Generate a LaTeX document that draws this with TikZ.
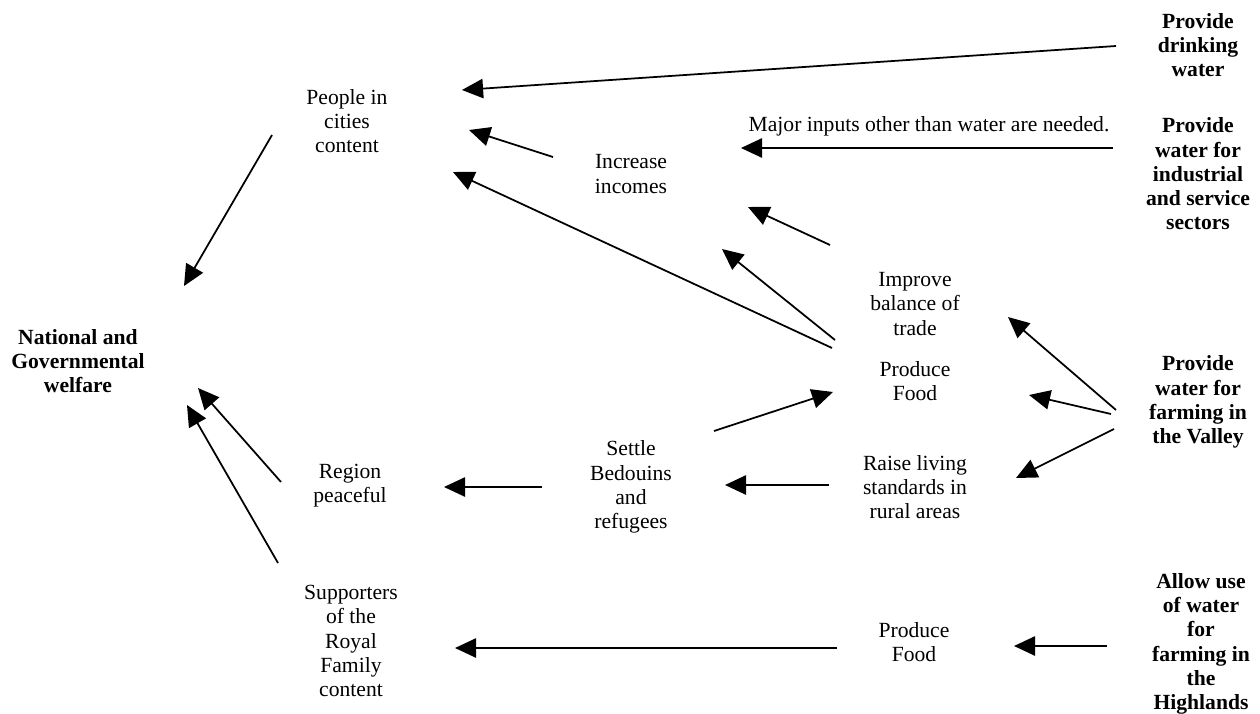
\documentclass[tikz,border=0pt]{standalone}
\usepackage{fontspec}
\setmainfont{Liberation Serif}
\usetikzlibrary{arrows.meta, positioning}
\tikzstyle{effect} = [align=center, inner sep=0pt, font=\fontsize{12.3}{13.8}\selectfont]
\tikzstyle{source} = [align=center, inner sep=0pt, font=\fontsize{12.3}{13.8}\selectfont\bfseries]
\tikzstyle{arrow} = [line width=1pt, -{Triangle[length=12pt, width=11pt]}]

\begin{document}
\begin{tikzpicture}[x=0.2mm, y=-0.2mm]
    \useasboundingbox (0,0) rectangle (1260,714);

    % Water uses
    \node (drinking) [source] at (1198,45) {Provide\\drinking\\water};
    \node (industry) [source] at (1198,174) {Provide\\water for\\industrial\\and service\\sectors};
    \node (valley) [source] at (1198,402) {Provide\\water for\\farming in\\the Valley};
    \node (highlands) [source] at (1201,644) {Allow use\\of water\\for\\farming in\\the\\Highlands};

    % Goal
    \node (welfare) [source] at (78,361) {National and\\Governmental\\welfare};

    % Effects
    \node (people) [effect] at (347,121) {People in\\cities\\content};
    \node (incomes) [effect] at (631,174) {Increase\\incomes};
    \node (inputs) [effect] at (929,126) {Major inputs other than water are needed.};
    \node (trade) [effect] at (915,304) {Improve\\balance of\\trade};
    \node (food) [effect] at (915,381) {Produce\\Food};
    \node (rural) [effect] at (915,487) {Raise living\\standards in\\rural areas};
    \node (settle) [effect] at (631,487) {Settle\\Bedouins\\and\\refugees};
    \node (peace) [effect] at (350,486) {Region\\peaceful};
    \node (royal) [effect] at (351,641) {Supporters\\of the\\Royal\\Family\\content};
    \node (food_high) [effect] at (914,642) {Produce\\Food};

    % Arrow ends
    \coordinate (drinking_out) at (1116,46);
    \coordinate (people_in1) at (462,90);
    \coordinate (industry_out) at (1113,148);
    \coordinate (inputs_in) at (741,148);
    \coordinate (people_out) at (272,135);
    \coordinate (welfare_in1) at (184,286);
    \coordinate (incomes_out) at (553,157);
    \coordinate (people_in2) at (469,130);
    \coordinate (food_out1) at (832,348);
    \coordinate (people_in3) at (453,172);
    \coordinate (food_out2) at (835,340);
    \coordinate (incomes_in1) at (722,249);
    \coordinate (trade_out) at (830,245);
    \coordinate (incomes_in2) at (748,207);
    \coordinate (settle_out1) at (714,431);
    \coordinate (food_in) at (833,392);
    \coordinate (valley_out1) at (1116,410);
    \coordinate (trade_in) at (1008,317);
    \coordinate (valley_out2) at (1111,414);
    \coordinate (food_in2) at (1029,395);
    \coordinate (valley_out3) at (1114,429);
    \coordinate (rural_in) at (1016,478);
    \coordinate (rural_out) at (829,485);
    \coordinate (settle_in) at (725,485);
    \coordinate (settle_out2) at (542,487);
    \coordinate (peace_in) at (444,487);
    \coordinate (peace_out) at (281,482);
    \coordinate (welfare_in2) at (198,388);
    \coordinate (royal_out) at (278,563);
    \coordinate (welfare_in3) at (187,405);
    \coordinate (highlands_out) at (1107,646);
    \coordinate (food_high_in) at (1014,646);
    \coordinate (food_high_out) at (837,648);
    \coordinate (royal_in) at (455,648);

    % ==== Arrows
    \draw [arrow] (drinking_out) -- (people_in1);
    \draw [arrow] (industry_out) -- (inputs_in);
    \draw [arrow] (people_out) -- (welfare_in1);
    \draw [arrow] (incomes_out) -- (people_in2);
    \draw [arrow] (food_out1) -- (people_in3);
    \draw [arrow] (food_out2) -- (incomes_in1);
    \draw [arrow] (trade_out) -- (incomes_in2);
    \draw [arrow] (settle_out1) -- (food_in);
    \draw [arrow] (valley_out1) -- (trade_in);
    \draw [arrow] (valley_out2) -- (food_in2);
    \draw [arrow] (valley_out3) -- (rural_in);
    \draw [arrow] (rural_out) -- (settle_in);
    \draw [arrow] (settle_out2) -- (peace_in);
    \draw [arrow] (peace_out) -- (welfare_in2);
    \draw [arrow] (royal_out) -- (welfare_in3);
    \draw [arrow] (highlands_out) -- (food_high_in);
    \draw [arrow] (food_high_out) -- (royal_in);

\end{tikzpicture}
\end{document}
